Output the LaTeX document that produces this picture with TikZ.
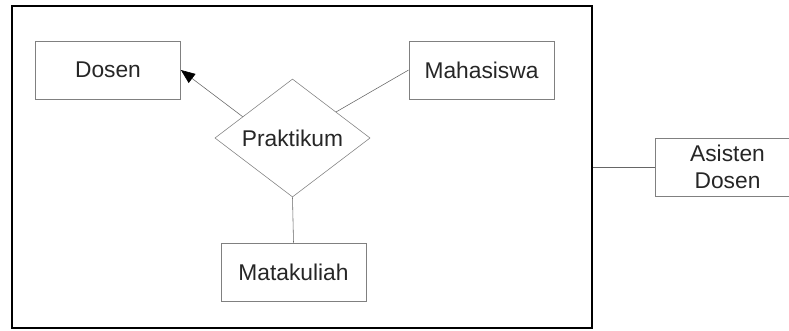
\documentclass[tikz,border=0pt]{standalone}
\usepackage{fontspec}
\setmainfont{Liberation Sans}
\usetikzlibrary{shapes.geometric,arrows.meta,calc}

\tikzset{
  entity/.style={draw=gray, thin, rectangle, minimum width=3.63cm, minimum height=1.45cm,
    inner sep=0pt, align=center, font=\fontsize{16.2}{19}\selectfont, text=black!85},
  relation/.style={draw=gray, thin, diamond, minimum width=3.88cm, minimum height=2.9cm,
    inner sep=0pt, font=\fontsize{16.2}{19}\selectfont, text=black!85},
  link/.style={draw=black!60, thin}
}

\begin{document}
\begin{tikzpicture}[x=0.025cm, y=-0.025cm]
  \useasboundingbox (0,0) rectangle (789,330);

  % Aggregation frame (draw first)
  \node[draw=black, line width=1.8pt, minimum width=14.5cm, minimum height=8.05cm, inner sep=0pt]
    (agg) at (302,167) {};

  % Entities and relationship
  \node[entity] (dosen) at (108,70) {Dosen};
  \node[entity] (mhs) at (481.5,70) {Mahasiswa};
  \node[relation] (prak) at (292.5,138) {Praktikum};
  \node[entity] (mk) at (293.5,272) {Matakuliah};
  \node[entity] (asdos) at (727.5,167) {Asisten\\Dosen};

  % Connectors
  \draw[link, -{Triangle[black, length=10pt, width=8pt]}]
    ($(prak.west)!0.36!(prak.north)$) -- (dosen.east);
  \draw[link] ($(prak.north)!0.56!(prak.east)$) -- (mhs.west);
  \draw[link] (prak.south) -- (mk.north);

  % Aggregation to Asisten Dosen
  \draw[link] (agg.east) -- (asdos.west);

\end{tikzpicture}
\end{document}
